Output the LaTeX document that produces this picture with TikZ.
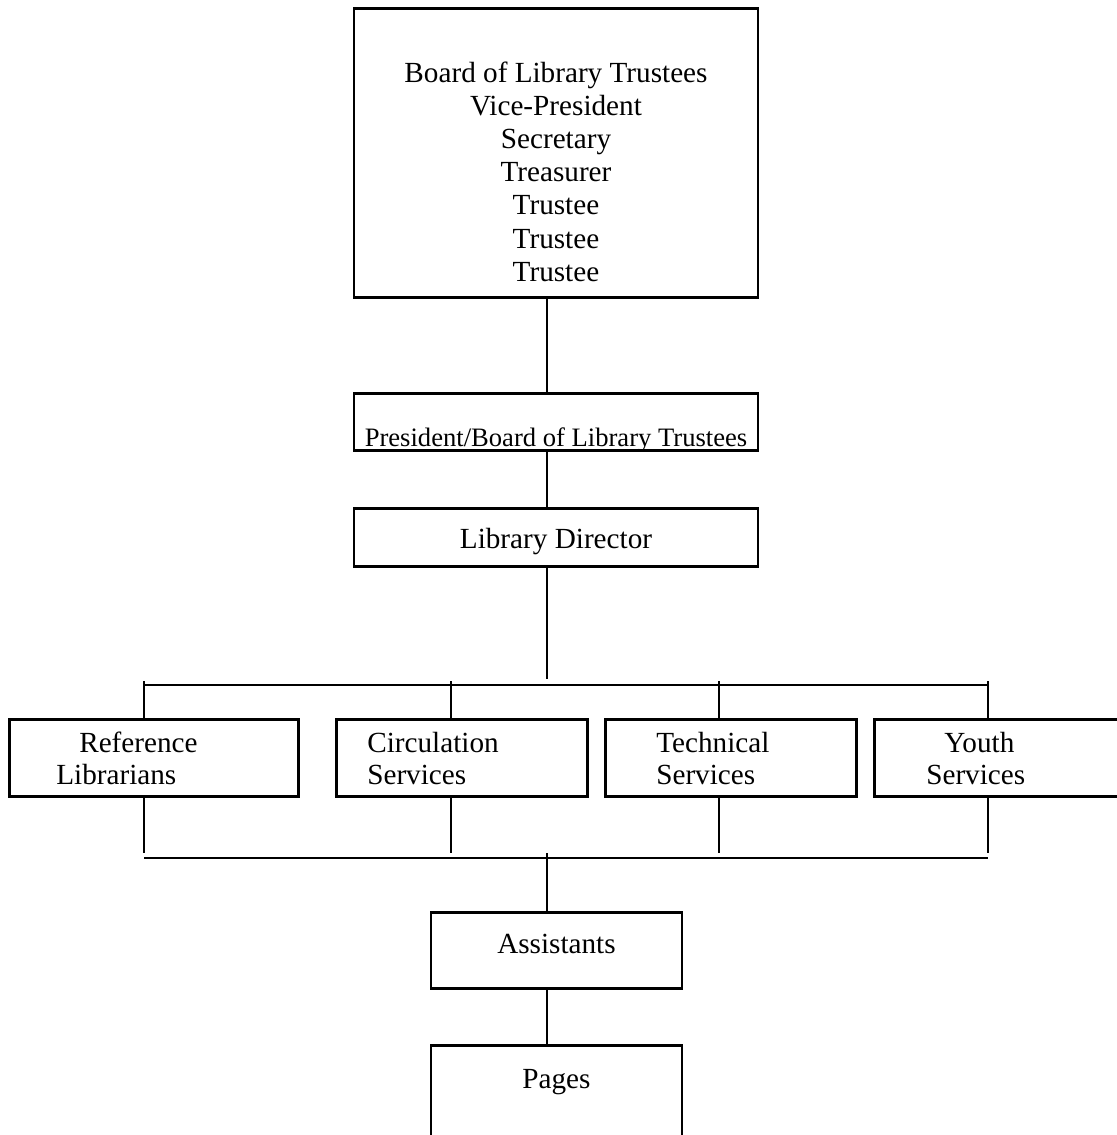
\documentclass[tikz,border=0pt]{standalone}
\usepackage{fontspec}
\setmainfont{Liberation Serif}
\usetikzlibrary{arrows}

\begin{document}
\begin{tikzpicture}[x=0.5pt, y=-0.5pt, line width=1.3pt,
    box/.style={draw, rectangle, inner ysep=0pt, align=center, anchor=north,
      font=\fontsize{14.6}{16.6}\selectfont},
    dept/.style={draw, rectangle, inner ysep=0pt, align=left, anchor=north west,
      text height=16.5pt, text depth=22pt,
      font=\fontsize{14.6}{16.2}\selectfont}]
  \clip (0,0) rectangle (1117,1135);
  % boxes
  \node[box, minimum width=202pt, text height=136.5pt, text depth=8pt] (board) at (556,7)
    {Board of Library Trustees\\Vice-President\\Secretary\\Treasurer\\Trustee\\Trustee\\Trustee};
  \node[box, minimum width=202pt, text height=26.5pt, text depth=2pt,
    font=\fontsize{13.3}{16}\selectfont] (pres) at (556,392) {President/Board of Library Trustees};
  \node[box, minimum width=202pt, text height=20pt, text depth=9pt] (dir) at (556,507) {Library Director};
  \node[dept, inner xsep=23.5pt, text width=97.5pt] (ref) at (8,718) {\hspace*{11.5pt}Reference\\Librarians};
  \node[dept, inner xsep=15.5pt, text width=94.5pt] (circ) at (335,718) {Circulation\\Services};
  \node[dept, inner xsep=25.5pt, text width=74.5pt] (tech) at (604,718) {Technical\\Services};
  \node[dept, inner xsep=26pt, text width=73.5pt] (youth) at (873,718) {\hspace*{9pt}Youth\\Services};
  \node[box, minimum width=125.5pt, text height=20.5pt, text depth=17.5pt] (assist) at (556.5,911) {Assistants};
  \node[box, minimum width=125.5pt, text height=21.5pt, text depth=30pt] (pages) at (556.5,1044) {Pages};
  % spine
  \coordinate (spine) at (547,0);
  \coordinate (hubtop) at (547,679);
  \coordinate (hubbot) at (547,853);
  \draw (board.south -| spine) -- (pres.north -| spine);
  \draw (pres.south -| spine) -- (dir.north -| spine);
  \draw (dir.south -| spine) -- (hubtop);
  \draw (hubbot) -- (assist.north -| spine);
  \draw (assist.south -| spine) -- (pages.north -| spine);
  % buses
  \coordinate (busA) at (144,685);
  \coordinate (busB) at (988,685);
  \coordinate (busC) at (144,858);
  \coordinate (busD) at (988,858);
  \draw (busA) -- (busB);
  \draw (busC) -- (busD);
  \foreach \d/\x in {ref/144, circ/451, tech/719, youth/988} {
    \draw (\x,681) -- (\x,0 |- \d.north);
    \draw (\x,0 |- \d.south) -- (\x,853);
  }
\end{tikzpicture}
\end{document}
